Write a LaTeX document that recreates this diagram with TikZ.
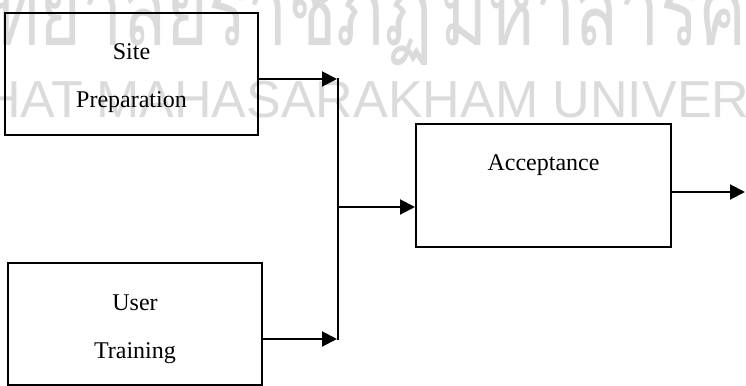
\documentclass[tikz,border=0pt]{standalone}
\usepackage{fontspec}
\setmainfont{Liberation Serif}
\newfontfamily\thaimark[Script=Thai,FakeStretch=0.72]{Loma}
\newfontfamily\latinmark{Liberation Sans}
\usetikzlibrary{arrows.meta}
\begin{document}
\begin{tikzpicture}[x=0.5pt,y=-0.5pt,
  stage/.style={draw,line width=1pt,inner sep=0pt,align=center,
    font=\fontsize{12}{24}\selectfont},
  flow/.style={line width=1pt,-{Triangle[length=7.5pt,width=7.5pt]}},
  link/.style={line width=1pt},
  watermark/.style={inner sep=0pt,text=black!14},
  thaimarkfont/.style={font=\thaimark\fontsize{50}{50}\selectfont},
  latinmarkfont/.style={font=\latinmark\fontsize{26}{26}\selectfont}]
  \useasboundingbox (0,0) rectangle (746,386);
  \fill[white] (0,0) rectangle (746,386);
  \clip (0,0) rectangle (746,386);

  % university watermark
  \node[watermark,thaimarkfont,anchor=base east] (wmthaiA) at (433,45) {มหาวิทยาลัยราชภัฏ};
  \node[watermark,thaimarkfont,anchor=base west] (wmthaiB) at (440,45) {มหาสารคาม};
  \node[watermark,latinmarkfont,anchor=base east] (wmlatinA) at (84,117) {RAJABHAT};
  \node[watermark,latinmarkfont,anchor=base west] (wmlatinB) at (96,117) {MAHASARAKHAM UNIVERSITY};

  % stages
  \node[stage,minimum width=126.5pt,minimum height=61pt] (site) at (131.5,74)
    {\rule{0pt}{12.2pt}Site\\Preparation};
  \node[stage,minimum width=127pt,minimum height=61pt] (user) at (135,324)
    {\rule{0pt}{12.8pt}User\\Training};
  \node[stage,minimum width=127.5pt,minimum height=61.5pt,text height=8pt,text depth=23.5pt]
    (acc) at (543.5,185.5) {Acceptance};

  % junction points
  \coordinate (j1) at (338,79);
  \coordinate (j2) at (338,339);
  \coordinate (j3) at (338,207);
  \coordinate (out) at (745,192);

  % connectors
  \draw[flow] (j1 -| site.east) -- ([xshift=-0.5pt]j1);
  \draw[flow] (j2 -| user.east) -- ([xshift=-0.5pt]j2);
  \draw[link] ([yshift=0.5pt]j1) -- ([yshift=-0.5pt]j2);
  \draw[flow] (j3) -- (j3 -| acc.west);
  \draw[flow] (out -| acc.east) -- (out);
\end{tikzpicture}
\end{document}
